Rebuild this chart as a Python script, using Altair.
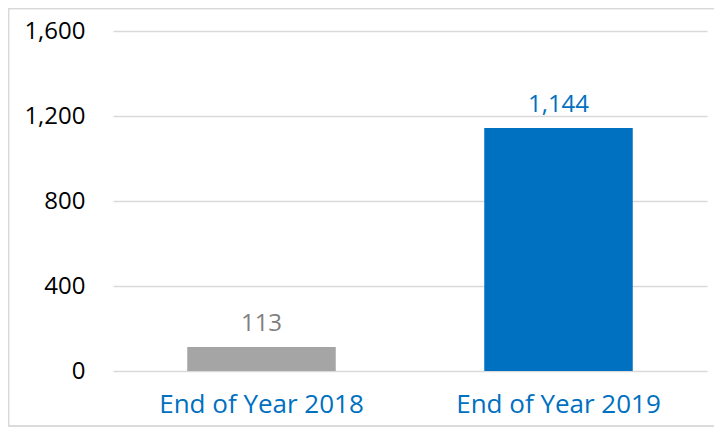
import altair as alt
import pandas as pd

categories = ["End of Year 2018", "End of Year 2019"]
values = [113, 1144]
bar_colors = ["#a5a5a5", "#0070c0"]
label_colors = ["#7f7f7f", "#0070c0"]

df = pd.DataFrame({"cat": categories, "val": values, "bc": bar_colors, "lc": label_colors})

FONT = "Open Sans"
W, H = 594, 340

x = alt.X("cat:N", sort=categories, title=None,
          scale=alt.Scale(paddingInner=0.5, paddingOuter=0.25),
          axis=alt.Axis(labelAngle=0, ticks=False, domain=False, grid=False,
                        labelColor="#0070c0", labelFontSize=26, labelFont=FONT,
                        labelPadding=20, labelLimit=0))
y = alt.Y("val:Q", title=None,
          scale=alt.Scale(domain=[0, 1600], nice=False),
          axis=alt.Axis(values=[0, 400, 800, 1200, 1600], format=",.0f", ticks=False,
                        domain=False, gridColor="#d9d9d9", gridWidth=1.5,
                        labelColor="#000000", labelFontSize=24, labelFont=FONT,
                        labelPadding=28))

bars = alt.Chart(df).mark_bar().encode(
    x=x, y=y, color=alt.Color("bc:N", scale=None)
)
text = alt.Chart(df).mark_text(dy=-16, baseline="alphabetic", fontSize=24, font=FONT).encode(
    x=alt.X("cat:N", sort=categories), y="val:Q", text=alt.Text("val:Q", format=",.0f"),
    color=alt.Color("lc:N", scale=None)
)
frame = alt.Chart(df).mark_rect(fill=None, stroke="#d9d9d9", strokeWidth=1.5).encode(
    x=alt.value(-104.5), x2=alt.value(W + 40), y=alt.value(-22.5), y2=alt.value(H + 55)
)

chart = alt.layer(frame, bars, text).properties(
    width=W, height=H,
    autosize=alt.AutoSizeParams(type="none"),
    padding={"left": 105, "top": 23, "right": 7, "bottom": 57},
).configure_view(stroke=None)

chart.save("out.html", embed_options={"renderer": "svg", "actions": False})
